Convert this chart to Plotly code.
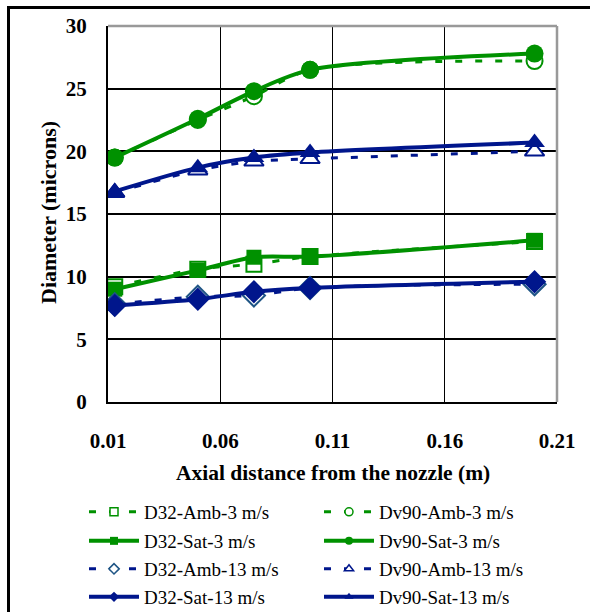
import plotly.graph_objects as go

# ---- data ----
x_dist = [0.013, 0.05, 0.075, 0.1, 0.2]
d32_amb_3 = [9.2, 10.6, 11.0, 11.6, 12.8]
d32_sat_3 = [9.0, 10.5, 11.55, 11.6, 12.9]
dv90_amb_3 = [19.5, 22.5, 24.4, 26.5, 27.2]
dv90_sat_3 = [19.5, 22.6, 24.8, 26.5, 27.8]
d32_amb_13 = [7.8, 8.4, 8.5, 9.1, 9.4]
d32_sat_13 = [7.7, 8.2, 8.8, 9.1, 9.6]
dv90_amb_13 = [16.7, 18.5, 19.2, 19.4, 20.0]
dv90_sat_13 = [16.8, 18.7, 19.5, 19.9, 20.7]

x_ticks = [0.01, 0.06, 0.11, 0.16, 0.21]
x_tick_text = ["0.01", "0.06", "0.11", "0.16", "0.21"]
y_ticks = [0, 5, 10, 15, 20, 25, 30]

GREEN = "#009100"
BLUE = "#00168C"
TEAL = "#1F5585"
DASH = "7px,13px"
SERIF = "Liberation Serif"

# (name, values, color, dash, width, symbol, marker size, filled, marker edge color)
series = [
    ("D32-Amb-3 m/s", d32_amb_3, GREEN, DASH, 3, "square", 15, False, GREEN),
    ("Dv90-Amb-3 m/s", dv90_amb_3, GREEN, DASH, 3, "circle", 16, False, GREEN),
    ("D32-Sat-3 m/s", d32_sat_3, GREEN, "solid", 4, "square", 15, True, GREEN),
    ("Dv90-Sat-3 m/s", dv90_sat_3, GREEN, "solid", 4, "circle", 18, True, GREEN),
    ("D32-Amb-13 m/s", d32_amb_13, BLUE, DASH, 3, "diamond", 17, False, TEAL),
    ("Dv90-Amb-13 m/s", dv90_amb_13, BLUE, DASH, 3, "triangle-up", 17, False, BLUE),
    ("D32-Sat-13 m/s", d32_sat_13, BLUE, "solid", 4, "diamond", 18, True, BLUE),
    ("Dv90-Sat-13 m/s", dv90_sat_13, BLUE, "solid", 4, "triangle-up", 18, True, BLUE),
]

L, R, T, B = 108, 33, 26, 210
W, H = 590, 612
pw = W - L - R
ph = H - T - B


def px_x(p):
    return (p - L) / pw


def px_y(p):
    return (H - B - p) / ph


fig = go.Figure()

# data traces (no legend)
for name, vals, col, dash, w, sym, ms, filled, mcol in series:
    fig.add_trace(go.Scatter(
        x=x_dist, y=vals, mode="lines+markers", name=name, showlegend=False,
        line=dict(color=col, width=w, dash=dash, shape="spline", smoothing=0.8),
        marker=dict(symbol=sym, size=ms,
                    color=mcol if filled else "white",
                    line=dict(color=mcol, width=0 if filled else 2)),
    ))

# legend entries: one legend box per entry, laid out in 2 columns x 4 rows
col_x = [84, 319]
row_y = [512, 541, 569, 597]
legend_layout = {}
for i, (name, vals, col, dash, w, sym, ms, filled, mcol) in enumerate(series):
    key = "legend" if i == 0 else f"legend{i + 1}"
    fig.add_trace(go.Scatter(
        x=[None], y=[None], mode="lines+markers", name=name, showlegend=True,
        legend=key,
        line=dict(color=col, width=w, dash=dash),
        marker=dict(symbol=sym, size=8,
                    color=mcol if filled else "white",
                    line=dict(color=mcol, width=0 if filled else 1.5)),
    ))
    legend_layout[key] = dict(
        x=px_x(col_x[i % 2]), y=px_y(row_y[i // 2]), xanchor="left", yanchor="middle",
        orientation="h", itemwidth=50,
        font=dict(family=SERIF, size=19, color="black"),
        bgcolor="rgba(0,0,0,0)", borderwidth=0,
    )

fig.update_layout(
    width=W, height=H,
    margin=dict(l=L, r=R, t=T, b=B, autoexpand=False),
    paper_bgcolor="white", plot_bgcolor="white",
    font=dict(family=SERIF, color="black"),
    xaxis=dict(
        range=[0.0099999, 0.2100001], tickvals=x_ticks, ticktext=x_tick_text,
        showgrid=True, gridcolor="black", gridwidth=1.3,
        showline=True, linecolor="black", linewidth=2,
        zeroline=False, ticks="", ticklabelstandoff=19,
        tickfont=dict(family=SERIF, size=21, color="black", weight="bold"),
    ),
    yaxis=dict(
        range=[0, 30], tickvals=y_ticks,
        showgrid=True, gridcolor="black", gridwidth=2,
        showline=True, linecolor="black", linewidth=2,
        zeroline=False, ticks="", ticklabelstandoff=15,
        tickfont=dict(family=SERIF, size=21, color="black", weight="bold"),
    ),
    shapes=[
        # gray top and right plot borders
        dict(type="line", xref="paper", yref="paper", x0=0, x1=1, y0=1, y1=1,
             line=dict(color="#999999", width=2.5), layer="above"),
        dict(type="line", xref="paper", yref="paper", x0=1, x1=1, y0=0, y1=1,
             line=dict(color="#999999", width=2.5), layer="above"),
        # outer frame (top and left)
        dict(type="line", xref="paper", yref="paper", x0=px_x(8), x1=px_x(600),
             y0=px_y(7.5), y1=px_y(7.5), line=dict(color="black", width=3)),
        dict(type="line", xref="paper", yref="paper", x0=px_x(8.5), x1=px_x(8.5),
             y0=px_y(6), y1=px_y(620), line=dict(color="black", width=3)),
    ],
    annotations=[
        dict(text="<b>Axial distance from the nozzle (m)</b>", xref="paper", yref="paper",
             x=px_x(333), y=px_y(473), xanchor="center", yanchor="middle",
             showarrow=False, font=dict(family=SERIF, size=21.5, color="black")),
        dict(text="<b>Diameter (microns)</b>", xref="paper", yref="paper",
             x=px_x(48), y=px_y(212), xanchor="center", yanchor="middle", textangle=-90,
             showarrow=False, font=dict(family=SERIF, size=22, color="black")),
    ],
    **legend_layout,
)

fig.write_html("out.html")
